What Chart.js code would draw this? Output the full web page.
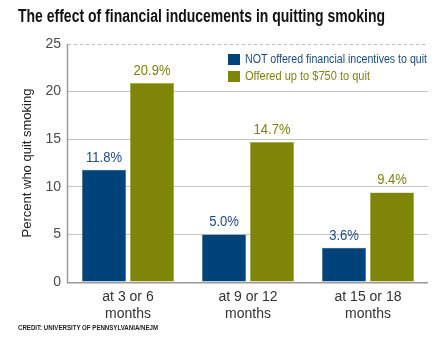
<!DOCTYPE html>
<html>
<head>
<meta charset="utf-8">
<script src="https://cdn.jsdelivr.net/npm/chart.js@4/dist/chart.umd.min.js"></script>
<style>
  html, body { margin: 0; padding: 0; background: #fff; }
  #wrap { position: relative; width: 445px; height: 344px; overflow: hidden; }
  .fit { position: absolute; font-family: "Liberation Sans", Arial, sans-serif; font-weight: bold; white-space: nowrap; transform-origin: 0 0; }
  #title { left: 18px; top: 6px; font-size: 18px; color: #111; }
  #credit { left: 18px; top: 323px; font-size: 8px; color: #222; }
  canvas { position: absolute; left: 0; top: 0; }
</style>
</head>
<body>
<div id="wrap">
  <canvas id="c" width="445" height="344"></canvas>
  <div id="title" class="fit" data-w="367">The effect of financial inducements in quitting smoking</div>
  <div id="credit" class="fit" data-w="140">CREDIT: UNIVERSITY OF PENNSYLVANIA/NEJM</div>
</div>
<script>
const categories = [["at 3 or 6", "months"], ["at 9 or 12", "months"], ["at 15 or 18", "months"]];
const seriesNames = ["NOT offered financial incentives to quit", "Offered up to $750 to quit"];
const notOffered = [11.8, 5.0, 3.6];
const offered = [20.9, 14.7, 9.4];
const yTicks = [0, 5, 10, 15, 20, 25];

const barColors = ["#00427a", "#7e8507"];
const labelColors = ["#1b4a82", "#7e8110"];
const FONT = "'Liberation Sans', Arial, sans-serif";

document.querySelectorAll('.fit').forEach(el => {
  const w = el.getBoundingClientRect().width;
  const target = parseFloat(el.dataset.w);
  el.style.transform = 'scaleX(' + (target / w) + ')';
});

function narrowText(ctx, text, x, y, factor) {
  ctx.save();
  ctx.translate(x, y);
  ctx.scale(factor, 1);
  ctx.fillText(text, 0, 0);
  ctx.restore();
}

const extras = {
  id: 'extras',
  beforeDatasetsDraw(chart) {
    const ctx = chart.ctx, a = chart.chartArea;
    const y = chart.scales.y;
    ctx.save();
    ctx.strokeStyle = '#bdbdbd';
    ctx.lineWidth = 1;
    ctx.setLineDash([3, 3]);
    const yt = Math.round(y.getPixelForValue(yTicks[yTicks.length - 1])) + 0.5;
    ctx.beginPath(); ctx.moveTo(a.left, yt); ctx.lineTo(a.right, yt); ctx.stroke();
    ctx.setLineDash([]);
    ctx.restore();
  },
  afterDatasetsDraw(chart) {
    const ctx = chart.ctx, a = chart.chartArea;
    ctx.save();
    ctx.font = "14px " + FONT;
    ctx.textAlign = 'center';
    ctx.textBaseline = 'middle';
    chart.data.datasets.forEach((ds, di) => {
      const meta = chart.getDatasetMeta(di);
      meta.data.forEach((bar, i) => {
        ctx.fillStyle = labelColors[di];
        narrowText(ctx, ds.data[i].toFixed(1) + '%', bar.x, bar.y - 12, 0.93);
      });
    });
    ctx.strokeStyle = '#9a9a9a';
    ctx.lineWidth = 1.5;
    ctx.beginPath();
    ctx.moveTo(a.left - 0.5, a.top);
    ctx.lineTo(a.left - 0.5, a.bottom + 0.75);
    ctx.lineTo(a.right, a.bottom + 0.75);
    ctx.stroke();
    // legend
    ctx.font = "12px " + FONT;
    ctx.textAlign = 'left';
    ctx.textBaseline = 'middle';
    const legendW = [182, 125];
    seriesNames.forEach((name, i) => {
      const top = 54 + i * 17;
      ctx.fillStyle = barColors[i];
      ctx.fillRect(228, top, 12, 11);
      ctx.fillStyle = labelColors[i];
      const mw = ctx.measureText(name).width;
      narrowText(ctx, name, 245, top + 6, legendW[i] / mw);
    });
    ctx.restore();
  }
};

new Chart(document.getElementById('c'), {
  type: 'bar',
  data: {
    labels: categories,
    datasets: [
      { label: seriesNames[0], data: notOffered, backgroundColor: barColors[0], borderColor: '#4a6f96', borderWidth: 0.5 },
      { label: seriesNames[1], data: offered, backgroundColor: barColors[1], borderColor: '#a3a84a', borderWidth: 0.5 }
    ]
  },
  options: {
    responsive: false,
    animation: false,
    events: [],
    layout: { padding: { top: 44, right: 17, bottom: 0, left: 20 } },
    datasets: { bar: { categoryPercentage: 0.8, barPercentage: 0.917 } },
    plugins: { legend: { display: false }, tooltip: { enabled: false } },
    scales: {
      x: {
        grid: { display: false, drawTicks: false },
        border: { display: false },
        ticks: { color: '#333', font: { size: 14, family: FONT }, padding: 7, maxRotation: 0 },
        afterFit(s) { s.height = 62; }
      },
      y: {
        min: 0, max: 25,
        afterBuildTicks(s) { s.ticks = yTicks.map(v => ({ value: v })); },
        grid: {
          color: ctx => (ctx.tick && (ctx.tick.value === 0 || ctx.tick.value === 25)) ? 'rgba(0,0,0,0)' : '#c4c4c4',
          drawTicks: false
        },
        border: { display: false },
        ticks: { color: '#4a4a4a', font: { size: 14, family: FONT }, padding: 7 },
        title: { display: true, text: 'Percent who quit smoking', color: '#222', font: { size: 13, family: FONT }, padding: { top: 0, bottom: 0 } },
        afterFit(s) { s.width = 48; }
      }
    }
  },
  plugins: [extras]
});
</script>
</body>
</html>
